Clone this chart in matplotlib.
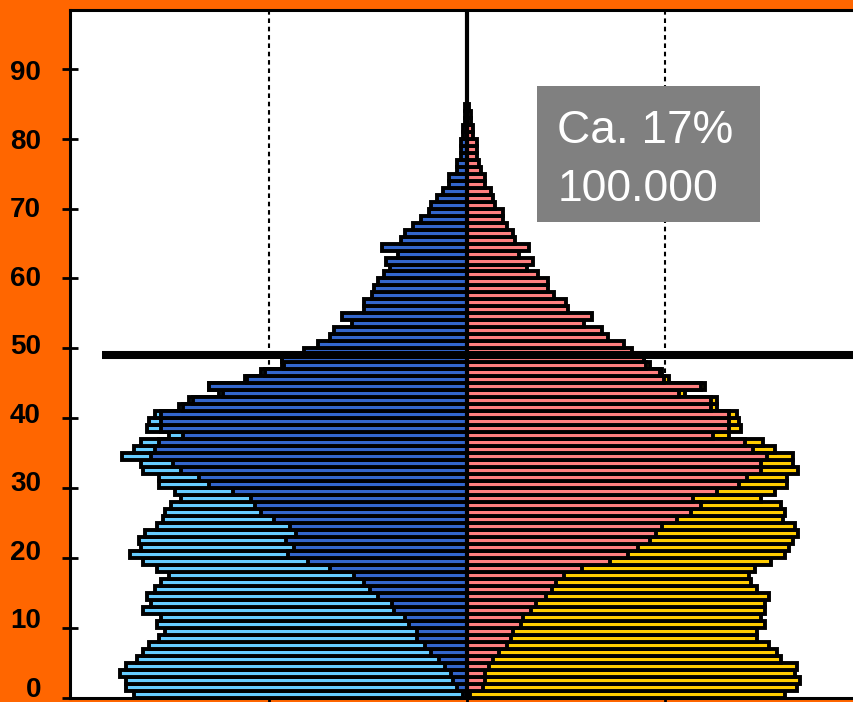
import numpy as np
import matplotlib
matplotlib.use("Agg")
import matplotlib.pyplot as plt
from matplotlib.patches import Rectangle

# ages, one bar per year
ages = np.arange(85)

# left side (men): inner dark blue, outer light blue total (ages 0-48)
left_inner = [0.02, 0.05, 0.07, 0.08, 0.11, 0.14, 0.18, 0.21, 0.25, 0.25,
              0.29, 0.31, 0.37, 0.38, 0.45, 0.49, 0.52, 0.57, 0.69, 0.80,
              0.90, 0.87, 0.91, 0.86, 0.89, 0.97, 1.04, 1.07, 1.09, 1.18,
              1.30, 1.35, 1.44, 1.48, 1.59, 1.57, 1.55, 1.43, 1.54, 1.54,
              1.54, 1.43, 1.38, 1.23, 1.30, 1.11, 1.02, 0.92, 0.93, 0.82,
              0.75, 0.69, 0.67, 0.58, 0.63, 0.52, 0.52, 0.48, 0.47, 0.45,
              0.42, 0.39, 0.41, 0.35, 0.43, 0.33, 0.31, 0.27, 0.23, 0.19,
              0.18, 0.15, 0.12, 0.09, 0.09, 0.05, 0.05, 0.03, 0.03, 0.03,
              0.02, 0.02, 0.01, 0.01, 0.01]
left_outer = [1.68, 1.72, 1.72, 1.75, 1.72, 1.66, 1.63, 1.60, 1.55, 1.52,
              1.56, 1.54, 1.63, 1.59, 1.61, 1.57, 1.54, 1.50, 1.56, 1.63,
              1.70, 1.64, 1.65, 1.62, 1.56, 1.53, 1.52, 1.49, 1.44, 1.47,
              1.55, 1.55, 1.63, 1.64, 1.74, 1.68, 1.64, 1.50, 1.61, 1.60,
              1.57, 1.45, 1.40, 1.25, 1.30, 1.12, 1.04, 0.93, 0.93]

# right side (women): inner pink, outer yellow total (ages 0-48)
right_inner = [0.015, 0.08, 0.09, 0.09, 0.11, 0.13, 0.16, 0.20, 0.22, 0.23,
               0.27, 0.28, 0.32, 0.35, 0.40, 0.43, 0.45, 0.49, 0.58, 0.72,
               0.81, 0.86, 0.92, 0.95, 0.98, 1.06, 1.13, 1.18, 1.14, 1.26,
               1.37, 1.41, 1.48, 1.48, 1.51, 1.44, 1.40, 1.24, 1.32, 1.32,
               1.32, 1.23, 1.23, 1.07, 1.18, 0.99, 0.97, 0.90, 0.89, 0.83,
               0.79, 0.71, 0.68, 0.59, 0.63, 0.51, 0.50, 0.44, 0.41, 0.41,
               0.36, 0.30, 0.33, 0.26, 0.31, 0.24, 0.23, 0.20, 0.18, 0.18,
               0.14, 0.13, 0.12, 0.09, 0.09, 0.07, 0.06, 0.05, 0.05, 0.05,
               0.03, 0.03, 0.02, 0.02, 0.01]
right_outer = [1.60, 1.66, 1.68, 1.65, 1.66, 1.58, 1.56, 1.52, 1.46, 1.46,
               1.50, 1.48, 1.50, 1.50, 1.52, 1.46, 1.43, 1.42, 1.45, 1.53,
               1.60, 1.62, 1.64, 1.67, 1.65, 1.59, 1.60, 1.58, 1.48, 1.55,
               1.61, 1.61, 1.67, 1.64, 1.64, 1.55, 1.49, 1.32, 1.38, 1.37,
               1.36, 1.26, 1.26, 1.10, 1.20, 1.02, 0.98, 0.92, 0.89]

y_ticks = [0, 10, 20, 30, 40, 50, 60, 70, 80, 90]
cut_age = 49.1
box_lines = ["Ca. 17%", "100.000"]

ORANGE = "#FF6600"
LIGHT_BLUE = "#66CCFF"
DARK_BLUE = "#3366CC"
PINK = "#FF7F7F"
YELLOW = "#FFCC00"
EDGE_LW = 2.8


def main():
    plt.rcParams["font.family"] = ["Liberation Sans", "DejaVu Sans"]
    fig = plt.figure(figsize=(8.54, 7.02), dpi=100, facecolor=ORANGE)
    ax = fig.add_axes([70 / 854, 4 / 702, 794 / 854, 688 / 702])
    ax.set_facecolor("white")

    n_out = len(left_outer)
    out_ages = ages[:n_out]

    # outer totals first, inner subgroup drawn over them
    ax.barh(out_ages, [-v for v in left_outer], height=1, align="edge",
            color=LIGHT_BLUE, edgecolor="black", linewidth=EDGE_LW, zorder=2)
    ax.barh(out_ages, right_outer, height=1, align="edge",
            color=YELLOW, edgecolor="black", linewidth=EDGE_LW, zorder=2)
    ax.barh(ages, [-v for v in left_inner], height=1, align="edge",
            color=DARK_BLUE, edgecolor="black", linewidth=EDGE_LW, zorder=3)
    ax.barh(ages, right_inner, height=1, align="edge",
            color=PINK, edgecolor="black", linewidth=EDGE_LW, zorder=3)

    # dashed guides behind the bars, center line on top
    for xv in (-1, 1):
        ax.axvline(xv, color="black", lw=1.5, ls=(0, (2.2, 1.8)), zorder=1)
    ax.axvline(0, color="black", lw=3, zorder=4)
    ax.plot([-1.84, 2.0], [cut_age, cut_age], color="black", lw=5.8,
            solid_capstyle="butt", zorder=5)

    # grey label box
    ax.add_patch(Rectangle((0.353, 68.1), 1.123, 19.45, facecolor="#808080",
                           edgecolor="none", zorder=6))
    ax.text(0.455, 79.4, box_lines[0], color="white", fontsize=33,
            va="baseline", ha="left", zorder=7)
    ax.text(0.455, 71.1, box_lines[1], color="white", fontsize=32,
            va="baseline", ha="left", zorder=7)

    ax.set_xlim(-2, 2)
    ax.set_ylim(0, 98.4)
    ax.set_yticks(y_ticks)
    ax.set_yticklabels([])
    ax.tick_params(axis="y", direction="inout", length=11, width=2)
    # labels sit a touch above their ticks near the bottom, as in the original
    for t in y_ticks:
        ax.text(41 / 854, (1.15 + 0.9805 * t) / 98.4 * (688 / 702) + 4 / 702,
                str(t), transform=fig.transFigure, ha="right", va="center",
                fontsize=20, fontweight="bold", clip_on=False)
    ax.set_xticks([-1, 0, 1])
    ax.set_xticklabels([])
    ax.tick_params(axis="x", direction="out", length=4, width=2)

    for side in ("left", "top", "bottom"):
        ax.spines[side].set_linewidth(2.2)
    ax.spines["right"].set_visible(False)

    fig.savefig("out.png", dpi=100, facecolor=ORANGE)
    plt.close(fig)


if __name__ == "__main__":
    main()
